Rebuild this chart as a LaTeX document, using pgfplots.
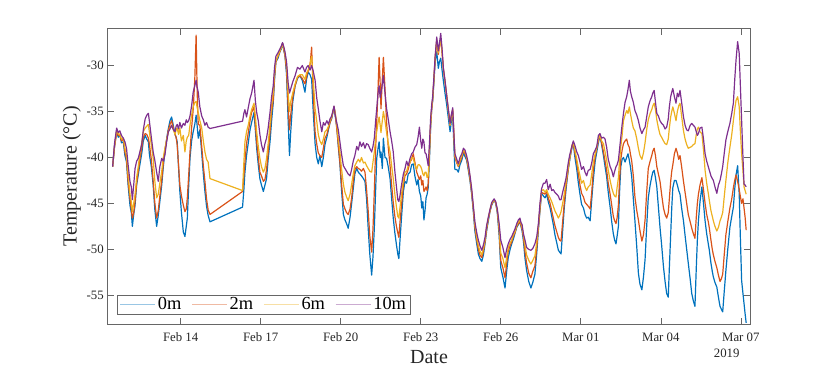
\documentclass[border=0pt]{standalone}
\usepackage{fontspec}
\setmainfont{Liberation Serif}
\usepackage{pgfplots}
\usepackage{pgfplotstable}
\pgfplotsset{compat=1.18}
\definecolor{c0}{RGB}{0,114,189}
\definecolor{c1}{RGB}{217,83,25}
\definecolor{c2}{RGB}{237,177,32}
\definecolor{c3}{RGB}{126,47,142}
\pgfplotstableread{
d B O Y P
-2.55 -41.0 -41.0 -41.0 -41.0
-2.48 -38.8 -38.9 -38.7 -38.5
-2.40 -37.2 -37.3 -37.1 -36.8
-2.34 -37.8 -37.6 -37.4 -37.3
-2.28 -37.5 -37.6 -37.5 -37.1
-2.22 -38.4 -38.2 -38.0 -37.6
-2.15 -38.3 -38.0 -37.9 -37.9
-2.09 -39.8 -39.4 -39.0 -38.3
-2.03 -40.5 -40.2 -39.8 -39.0
-1.97 -43.0 -42.6 -41.8 -40.8
-1.90 -45.2 -44.5 -44.0 -42.6
-1.85 -46.0 -45.6 -44.8 -43.2
-1.81 -47.5 -46.6 -45.9 -44.6
-1.76 -46.2 -46.0 -45.0 -43.0
-1.71 -45.2 -44.8 -44.0 -41.2
-1.65 -43.0 -42.8 -42.2 -40.4
-1.59 -41.9 -41.5 -41.0 -40.1
-1.53 -40.8 -40.2 -39.6 -39.4
-1.46 -39.6 -39.0 -38.4 -38.6
-1.40 -38.2 -37.8 -37.2 -37.0
-1.33 -37.6 -37.4 -36.8 -35.8
-1.27 -38.0 -37.5 -36.6 -35.4
-1.21 -38.3 -37.9 -36.4 -35.2
-1.17 -39.7 -38.6 -37.3 -36.1
-1.10 -41.0 -40.2 -38.6 -37.8
-1.03 -43.0 -42.6 -40.1 -39.4
-0.97 -45.6 -44.9 -42.5 -40.3
-0.90 -47.5 -46.6 -44.4 -41.6
-0.84 -46.3 -45.8 -44.0 -42.6
-0.78 -44.8 -44.2 -42.8 -41.0
-0.71 -43.0 -42.5 -41.5 -40.1
-0.65 -41.0 -40.6 -40.0 -40.4
-0.59 -39.4 -39.2 -39.0 -39.7
-0.52 -37.9 -38.0 -38.0 -38.2
-0.46 -36.85 -37.0 -37.2 -37.2
-0.40 -36.0 -36.4 -36.8 -36.9
-0.34 -35.6 -36.0 -36.5 -36.5
-0.27 -36.6 -36.8 -37.0 -37.0
-0.21 -37.5 -37.5 -37.5 -37.2
-0.17 -37.8 -37.8 -37.0 -36.6
-0.13 -38.3 -38.6 -36.8 -36.4
-0.08 -41.0 -40.8 -37.5 -36.9
-0.03 -43.7 -43.0 -36.8 -36.2
0.03 -46.0 -44.2 -38.2 -36.8
0.10 -48.1 -45.2 -37.6 -36.3
0.16 -48.6 -45.9 -39.4 -36.5
0.21 -47.5 -45.6 -38.2 -35.9
0.25 -46.6 -44.4 -37.8 -36.2
0.30 -43.2 -42.0 -37.6 -36.0
0.35 -40.1 -39.4 -36.5 -35.5
0.41 -38.2 -36.8 -35.4 -34.4
0.47 -37.2 -34.8 -34.5 -32.9
0.53 -36.4 -31.5 -34.0 -32.2
0.58 -35.4 -26.7 -33.9 -31.6
0.62 -36.6 -33.0 -34.6 -32.4
0.66 -37.9 -36.4 -35.1 -32.9
0.72 -37.0 -36.5 -36.0 -34.5
0.79 -39.5 -38.8 -36.8 -35.5
0.85 -41.8 -40.9 -38.2 -35.9
0.91 -43.7 -42.6 -39.4 -36.5
0.97 -45.3 -44.5 -40.2 -36.2
1.03 -46.3 -45.7 -40.5 -36.7
1.10 -47.0 -46.2 -42.3 -36.85
2.32 -45.4 -43.7 -43.6 -36.05
2.37 -43.5 -42.0 -40.5 -35.2
2.41 -41.6 -40.5 -38.3 -34.8
2.47 -39.8 -38.5 -37.2 -35.6
2.54 -38.3 -37.2 -36.4 -34.5
2.60 -37.0 -36.0 -35.5 -33.6
2.66 -36.2 -35.1 -34.8 -33.0
2.75 -35.1 -34.5 -34.1 -31.6
2.80 -37.0 -36.4 -35.5 -33.8
2.85 -39.0 -38.3 -37.2 -35.1
2.91 -40.8 -40.0 -38.8 -36.0
2.97 -42.3 -41.6 -40.1 -37.5
3.03 -43.0 -42.0 -41.0 -38.6
3.10 -43.7 -42.6 -41.6 -39.4
3.16 -43.0 -42.4 -41.2 -38.5
3.22 -42.3 -41.3 -40.1 -37.9
3.28 -40.2 -39.5 -38.5 -36.8
3.35 -38.3 -37.2 -36.4 -35.1
3.41 -36.0 -35.0 -34.4 -33.4
3.47 -34.1 -33.8 -32.9 -32.2
3.52 -31.5 -31.2 -30.8 -30.2
3.57 -29.6 -29.6 -29.5 -29.0
3.65 -29.2 -29.0 -28.9 -28.6
3.72 -28.5 -28.5 -28.4 -28.2
3.77 -28.2 -28.0 -28.1 -27.9
3.82 -27.6 -27.6 -27.6 -27.5
3.87 -28.4 -28.3 -28.2 -28.0
3.91 -28.9 -28.9 -28.7 -28.5
3.97 -31.0 -30.5 -30.0 -29.6
4.03 -36.0 -34.5 -33.0 -31.9
4.08 -39.8 -37.0 -35.0 -33.0
4.12 -37.5 -35.5 -34.0 -32.6
4.20 -34.0 -33.5 -33.0 -31.8
4.29 -32.2 -32.2 -32.0 -31.1
4.38 -31.4 -31.3 -31.2 -30.2
4.47 -31.1 -31.1 -31.0 -30.4
4.56 -31.6 -31.4 -31.0 -30.0
4.66 -32.9 -32.0 -31.5 -30.7
4.72 -31.5 -31.2 -30.8 -30.2
4.78 -30.7 -30.6 -30.5 -30.0
4.85 -31.0 -30.0 -29.8 -30.5
4.91 -31.5 -28.0 -29.0 -30.0
4.97 -35.0 -33.0 -31.5 -30.6
5.04 -38.5 -37.2 -34.7 -31.6
5.10 -40.0 -38.5 -36.0 -33.5
5.16 -40.7 -39.5 -37.5 -34.7
5.22 -39.8 -39.8 -38.2 -36.0
5.29 -41.0 -40.0 -38.6 -37.2
5.35 -40.0 -39.0 -38.0 -36.2
5.41 -38.6 -37.9 -37.2 -36.5
5.48 -37.8 -37.5 -37.0 -36.0
5.54 -37.0 -36.8 -36.6 -36.4
5.60 -36.2 -36.2 -36.0 -35.8
5.66 -35.8 -35.7 -35.6 -35.5
5.75 -34.5 -34.5 -34.5 -34.4
5.80 -35.6 -35.4 -35.2 -35.5
5.85 -36.6 -36.8 -36.4 -36.2
5.91 -38.8 -38.6 -38.0 -37.0
5.97 -40.7 -40.5 -39.4 -38.3
6.03 -43.5 -42.8 -41.2 -39.6
6.10 -46.2 -45.1 -42.9 -40.9
6.16 -46.8 -45.6 -43.8 -41.2
6.22 -47.2 -46.0 -44.3 -41.5
6.28 -47.7 -46.2 -44.7 -41.8
6.35 -46.5 -45.6 -44.0 -42.0
6.41 -45.0 -44.4 -42.9 -41.3
6.47 -43.4 -42.6 -41.8 -40.4
6.53 -41.8 -41.3 -40.9 -39.8
6.60 -41.2 -41.0 -40.5 -38.8
6.66 -41.6 -41.2 -40.2 -39.2
6.72 -41.8 -41.3 -40.5 -38.3
6.78 -42.0 -41.5 -40.0 -38.8
6.85 -42.3 -41.2 -40.6 -38.4
6.91 -42.6 -41.6 -40.5 -39.0
6.97 -44.5 -43.5 -40.9 -38.5
7.03 -47.7 -45.8 -41.2 -38.6
7.09 -50.5 -48.5 -41.5 -39.0
7.16 -52.8 -50.3 -41.6 -39.4
7.21 -50.8 -47.8 -40.5 -38.8
7.26 -47.7 -43.7 -39.4 -37.9
7.31 -43.5 -39.0 -38.0 -36.0
7.35 -40.1 -36.2 -37.2 -34.7
7.40 -39.0 -32.5 -36.2 -33.0
7.44 -38.3 -29.1 -35.6 -32.2
7.48 -40.0 -32.0 -36.5 -33.5
7.51 -39.4 -34.7 -37.3 -33.0
7.56 -41.2 -31.5 -36.0 -32.0
7.60 -37.9 -29.1 -35.0 -31.1
7.66 -40.0 -32.5 -36.0 -33.0
7.72 -40.1 -36.2 -37.3 -34.7
7.78 -41.0 -38.8 -38.4 -35.8
7.85 -42.3 -40.9 -39.4 -37.2
7.91 -44.5 -43.0 -40.9 -38.2
7.97 -46.6 -44.9 -42.3 -39.4
8.03 -48.2 -46.4 -44.0 -41.5
8.09 -49.5 -47.5 -45.4 -43.2
8.14 -50.5 -48.2 -46.4 -44.6
8.18 -51.0 -48.7 -46.6 -44.8
8.22 -49.1 -47.1 -45.5 -44.2
8.28 -46.5 -45.2 -44.0 -43.0
8.35 -43.7 -43.0 -42.5 -41.8
8.41 -42.6 -42.0 -41.6 -41.2
8.47 -42.8 -41.8 -41.5 -40.4
8.53 -41.8 -41.3 -40.9 -40.9
8.60 -41.6 -40.5 -40.5 -40.1
8.66 -40.8 -40.2 -40.0 -39.6
8.72 -40.7 -39.6 -40.1 -39.4
8.78 -42.0 -40.5 -40.8 -38.9
8.85 -43.0 -41.6 -41.3 -38.6
8.90 -42.4 -42.0 -40.8 -37.8
8.95 -43.7 -42.4 -40.8 -36.7
9.00 -44.2 -42.0 -41.0 -38.2
9.04 -45.5 -43.0 -41.3 -39.0
9.08 -44.8 -42.5 -41.8 -38.0
9.12 -46.8 -43.7 -42.0 -38.3
9.16 -45.8 -43.5 -41.6 -39.5
9.20 -44.4 -43.2 -41.6 -39.6
9.24 -44.0 -43.6 -42.2 -40.2
9.28 -43.3 -42.8 -42.0 -40.9
9.33 -40.0 -39.4 -39.0 -38.3
9.37 -36.8 -36.5 -36.5 -35.8
9.41 -34.8 -34.8 -34.6 -34.3
9.45 -33.8 -33.6 -33.6 -33.3
9.50 -31.5 -31.2 -31.2 -31.0
9.54 -29.6 -29.3 -29.2 -29.0
9.60 -28.5 -27.3 -27.2 -26.9
9.66 -30.3 -28.8 -28.6 -28.4
9.70 -29.6 -28.0 -27.8 -27.6
9.75 -29.2 -27.0 -27.2 -26.5
9.80 -30.5 -28.6 -28.6 -28.2
9.85 -31.7 -30.4 -30.4 -30.3
9.91 -33.0 -31.8 -31.8 -31.6
9.97 -34.2 -33.2 -33.2 -33.2
10.03 -35.6 -34.8 -34.8 -34.6
10.10 -37.2 -36.5 -36.5 -36.3
10.15 -36.0 -35.4 -35.5 -35.3
10.20 -35.5 -34.8 -34.8 -34.6
10.24 -38.5 -37.5 -37.4 -37.2
10.28 -41.3 -40.0 -39.8 -39.6
10.35 -41.3 -40.6 -40.4 -40.2
10.41 -41.6 -41.0 -40.9 -40.7
10.47 -40.8 -40.5 -40.3 -40.0
10.54 -40.3 -40.0 -39.8 -39.6
10.60 -39.5 -39.3 -39.2 -39.0
10.66 -39.9 -39.6 -39.4 -39.2
10.72 -40.3 -40.1 -40.0 -39.8
10.78 -41.3 -41.1 -40.9 -40.6
10.85 -42.6 -42.4 -42.2 -42.0
10.91 -44.0 -43.8 -43.7 -43.4
10.97 -45.8 -45.6 -45.4 -45.2
11.03 -48.0 -47.6 -47.3 -47.0
11.10 -49.4 -49.0 -48.7 -48.2
11.16 -50.5 -50.0 -49.6 -49.0
11.22 -51.0 -50.6 -50.2 -49.6
11.29 -51.3 -50.9 -50.6 -50.1
11.35 -50.6 -50.2 -49.9 -49.5
11.41 -49.4 -49.2 -49.0 -48.7
11.47 -48.0 -47.8 -47.6 -47.4
11.54 -46.8 -46.6 -46.5 -46.4
11.60 -45.8 -45.8 -45.7 -45.6
11.66 -45.2 -45.1 -45.0 -44.9
11.75 -44.6 -44.6 -44.6 -44.5
11.81 -45.0 -44.9 -44.9 -44.8
11.87 -46.0 -45.8 -45.8 -45.6
11.94 -48.5 -48.0 -47.6 -47.2
12.00 -52.0 -51.2 -50.4 -49.0
12.08 -53.0 -52.0 -51.0 -49.8
12.16 -54.2 -53.1 -52.0 -50.9
12.22 -52.4 -51.6 -50.9 -50.0
12.28 -50.9 -50.2 -49.8 -49.4
12.35 -50.0 -49.6 -49.3 -48.9
12.41 -49.4 -49.2 -49.0 -48.6
12.47 -48.9 -48.6 -48.4 -48.2
12.53 -48.3 -48.2 -48.1 -47.8
12.60 -47.6 -47.5 -47.4 -47.2
12.66 -47.3 -47.2 -47.0 -46.8
12.72 -47.0 -47.0 -46.8 -46.6
12.76 -47.5 -47.4 -47.2 -47.1
12.80 -48.0 -47.8 -47.6 -47.3
12.85 -49.1 -48.7 -48.4 -48.3
12.91 -51.0 -50.3 -49.6 -49.0
12.97 -52.3 -51.5 -50.6 -49.8
13.05 -53.5 -52.6 -51.2 -50.0
13.13 -54.2 -53.1 -51.6 -50.1
13.20 -53.6 -52.4 -51.2 -49.9
13.28 -52.7 -51.8 -50.7 -49.4
13.35 -50.4 -49.8 -49.2 -48.6
13.41 -47.9 -47.7 -47.5 -47.2
13.47 -45.8 -45.6 -45.4 -45.0
13.53 -43.9 -43.8 -43.6 -43.4
13.60 -44.2 -43.9 -43.5 -42.8
13.66 -44.4 -44.0 -43.8 -42.8
13.72 -44.0 -43.7 -43.5 -42.4
13.78 -44.8 -44.4 -44.0 -43.5
13.85 -45.5 -45.0 -44.4 -42.9
13.91 -46.4 -45.8 -44.8 -43.6
13.97 -47.3 -46.6 -45.3 -43.5
14.03 -48.4 -47.4 -45.8 -43.8
14.10 -49.3 -48.1 -46.2 -44.0
14.16 -50.1 -48.7 -46.6 -44.2
14.21 -50.3 -49.0 -46.3 -44.6
14.26 -50.5 -49.1 -45.9 -44.6
14.32 -48.0 -47.0 -45.0 -43.8
14.38 -45.5 -45.0 -44.0 -43.1
14.45 -43.4 -43.0 -42.6 -42.2
14.53 -41.3 -41.3 -41.1 -40.6
14.58 -40.4 -40.2 -40.2 -39.8
14.63 -39.5 -39.4 -39.3 -39.2
14.68 -38.8 -38.7 -38.6 -38.6
14.72 -38.5 -38.4 -38.4 -38.2
14.78 -40.0 -39.5 -39.2 -38.7
14.85 -41.3 -40.6 -40.2 -39.4
14.91 -42.8 -41.8 -41.2 -39.8
14.97 -44.0 -43.0 -42.0 -40.5
15.03 -45.1 -43.9 -42.8 -41.3
15.10 -45.5 -44.3 -42.5 -41.0
15.16 -46.2 -44.9 -43.2 -41.6
15.22 -46.6 -45.1 -43.6 -42.0
15.28 -46.5 -45.3 -43.2 -41.4
15.35 -46.9 -45.6 -43.0 -41.3
15.41 -44.6 -43.8 -41.8 -40.6
15.47 -42.4 -41.4 -40.5 -39.6
15.54 -40.4 -39.9 -39.6 -39.2
15.60 -39.4 -39.0 -38.9 -38.8
15.66 -38.4 -38.2 -38.0 -37.6
15.72 -37.6 -37.6 -37.6 -37.4
15.78 -38.6 -38.4 -38.2 -37.9
15.85 -39.8 -39.4 -38.5 -37.8
15.91 -41.0 -40.4 -39.4 -38.0
15.97 -42.1 -41.4 -40.3 -38.9
16.03 -43.8 -42.8 -41.4 -40.2
16.10 -45.4 -44.0 -42.5 -41.0
16.16 -47.0 -45.2 -43.3 -41.4
16.22 -48.3 -46.4 -43.9 -42.1
16.27 -49.0 -46.9 -44.2 -41.5
16.32 -49.4 -47.2 -44.3 -41.0
16.36 -48.6 -46.6 -43.3 -40.8
16.41 -47.5 -45.2 -42.2 -40.3
16.45 -44.0 -42.6 -40.5 -39.2
16.50 -41.0 -40.2 -38.8 -37.8
16.55 -40.2 -39.2 -37.6 -36.4
16.60 -40.0 -38.5 -36.0 -35.2
16.66 -40.5 -38.2 -35.4 -34.0
16.72 -40.0 -38.0 -34.9 -33.4
16.77 -39.6 -38.6 -35.2 -32.6
16.82 -40.3 -38.9 -34.5 -31.6
16.86 -41.0 -39.6 -35.2 -32.8
16.91 -42.1 -40.4 -36.0 -33.4
16.97 -44.5 -42.0 -36.8 -34.0
17.03 -46.9 -44.3 -37.1 -34.9
17.10 -49.8 -45.8 -38.0 -35.4
17.16 -52.6 -46.8 -39.0 -36.0
17.22 -53.8 -48.0 -39.8 -36.8
17.29 -54.4 -49.1 -40.2 -37.4
17.35 -53.0 -48.4 -39.5 -37.0
17.41 -51.1 -46.8 -38.4 -36.7
17.47 -47.5 -43.8 -37.0 -35.6
17.53 -44.4 -41.2 -35.9 -34.5
17.60 -43.0 -40.4 -35.2 -33.8
17.66 -42.1 -39.8 -34.8 -33.4
17.70 -41.6 -39.3 -34.4 -33.0
17.75 -41.4 -39.0 -34.1 -32.7
17.80 -42.2 -39.8 -34.8 -34.0
17.85 -43.2 -41.0 -35.9 -35.2
17.91 -45.4 -41.8 -36.8 -35.5
17.97 -47.6 -42.6 -37.5 -36.0
18.03 -49.5 -44.0 -37.8 -36.3
18.10 -51.9 -45.5 -38.2 -36.5
18.16 -53.5 -46.2 -38.5 -36.9
18.22 -54.8 -46.6 -38.6 -36.7
18.28 -55.2 -46.0 -38.0 -35.8
18.32 -52.0 -44.5 -36.8 -34.5
18.37 -48.4 -42.6 -35.6 -33.4
18.41 -45.5 -41.5 -35.0 -32.9
18.45 -43.3 -40.8 -34.5 -32.5
18.51 -42.5 -39.6 -35.2 -33.4
18.57 -42.5 -39.0 -36.0 -34.1
18.62 -43.0 -39.5 -35.0 -33.0
18.67 -43.6 -40.2 -34.4 -33.4
18.72 -44.0 -39.8 -34.1 -32.7
18.78 -45.5 -41.0 -35.5 -34.0
18.85 -46.9 -42.6 -37.1 -35.6
18.91 -48.5 -43.8 -38.0 -36.5
18.97 -50.0 -45.0 -38.6 -37.0
19.03 -51.5 -46.2 -39.0 -37.1
19.10 -53.2 -47.0 -38.9 -36.5
19.16 -54.8 -47.7 -38.8 -36.3
19.22 -55.6 -48.3 -38.6 -36.5
19.28 -56.2 -48.8 -38.5 -36.7
19.33 -52.0 -46.5 -37.5 -37.2
19.37 -49.0 -45.0 -36.9 -37.6
19.41 -46.9 -44.0 -36.7 -37.4
19.47 -44.8 -43.0 -37.2 -36.8
19.54 -43.2 -42.2 -37.4 -36.7
19.60 -45.0 -43.5 -39.2 -38.0
19.66 -46.9 -45.0 -41.4 -39.6
19.72 -48.3 -46.2 -42.8 -40.4
19.78 -49.4 -47.0 -43.9 -41.0
19.82 -50.1 -47.7 -44.7 -41.4
19.88 -51.5 -49.0 -45.8 -42.0
19.93 -52.4 -50.0 -46.4 -42.3
19.97 -53.0 -50.6 -46.9 -42.5
20.03 -53.6 -51.3 -47.5 -43.2
20.10 -54.1 -52.0 -48.0 -43.9
20.16 -55.2 -52.8 -47.6 -43.0
20.22 -56.2 -53.5 -46.9 -42.5
20.27 -56.5 -53.2 -46.5 -41.8
20.32 -56.8 -52.7 -46.0 -41.0
20.38 -54.5 -50.5 -44.2 -39.5
20.44 -52.3 -48.4 -42.5 -38.1
20.51 -50.0 -47.0 -40.6 -37.2
20.59 -47.6 -45.5 -38.9 -36.3
20.66 -46.4 -44.5 -37.5 -35.2
20.72 -45.4 -43.3 -36.0 -34.1
20.77 -43.5 -42.5 -34.8 -31.6
20.82 -41.9 -41.9 -33.8 -29.4
20.88 -40.9 -42.6 -33.4 -27.4
20.94 -44.0 -43.5 -34.5 -28.7
20.98 -48.5 -44.2 -37.0 -32.0
21.03 -53.4 -45.0 -39.6 -36.0
21.08 -54.8 -44.5 -41.5 -40.0
21.12 -55.9 -45.5 -43.2 -42.9
21.16 -57.0 -46.5 -43.6 -43.0
21.20 -58.0 -47.9 -44.0 -43.2
}\datatable

\begin{document}
\begin{tikzpicture}
\useasboundingbox (-107.3pt,-45.7pt) rectangle (722.7pt,324.3pt);
\begin{axis}[
  at={(0pt,0pt)}, anchor=south west,
  scale only axis, width=643.4pt, height=296pt,
  xmin=-2.75, xmax=21.37, ymin=-58.15, ymax=-25.95,
  xtick={0,3,6,9,12,15,18,21},
  xticklabels={Feb 14,Feb 17,Feb 20,Feb 23,Feb 26,Mar 01,Mar 04,Mar 07},
  ytick={-55,-50,-45,-40,-35,-30},
  yticklabels={-55,-50,-45,-40,-35,-30},
  tick align=inside,
  major tick length=6.5pt,
  axis line style={black!60, line width=0.6pt},
  every tick/.style={black!60, line width=0.6pt},
  ticklabel style={font=\fontsize{12.8}{14}\selectfont, text=black!85},
  xticklabel style={yshift=-5pt},
  xlabel={Date},
  ylabel={Temperature (°C)},
  label style={font=\fontsize{20}{24}\selectfont, text=black!85},
  xlabel style={at={(axis description cs:0.5,-0.1105)}, anchor=center},
  ylabel style={at={(axis description cs:-0.0553,0.5)}, anchor=center},
  legend columns=4,
  legend style={at={(axis description cs:0.01554,0.0338)}, anchor=south west,
    draw=black!60, line width=0.6pt, fill=white,
    font=\fontsize{18.4}{20}\selectfont, inner xsep=2pt, inner ysep=1pt,
    nodes={inner xsep=2pt, inner ysep=1.5pt},
    /tikz/every even column/.append style={column sep=8pt}},
  legend image code/.code={\draw[#1, line width=1.3pt, opacity=0.4] (0pt,0pt) -- (35pt,0pt);},
  clip mode=individual,
]
\addplot[c0, line width=1.2pt, line join=round] table[x=d, y=B] {\datatable};
\addplot[c1, line width=1.2pt, line join=round] table[x=d, y=O] {\datatable};
\addplot[c2, line width=1.2pt, line join=round] table[x=d, y=Y] {\datatable};
\addplot[c3, line width=1.2pt, line join=round] table[x=d, y=P] {\datatable};
\legend{0m,2m,6m,10m}
\node[font=\fontsize{12.8}{14}\selectfont, text=black!85] at (axis description cs:0.9627,-0.097) {2019};
\end{axis}
\end{tikzpicture}
\end{document}
